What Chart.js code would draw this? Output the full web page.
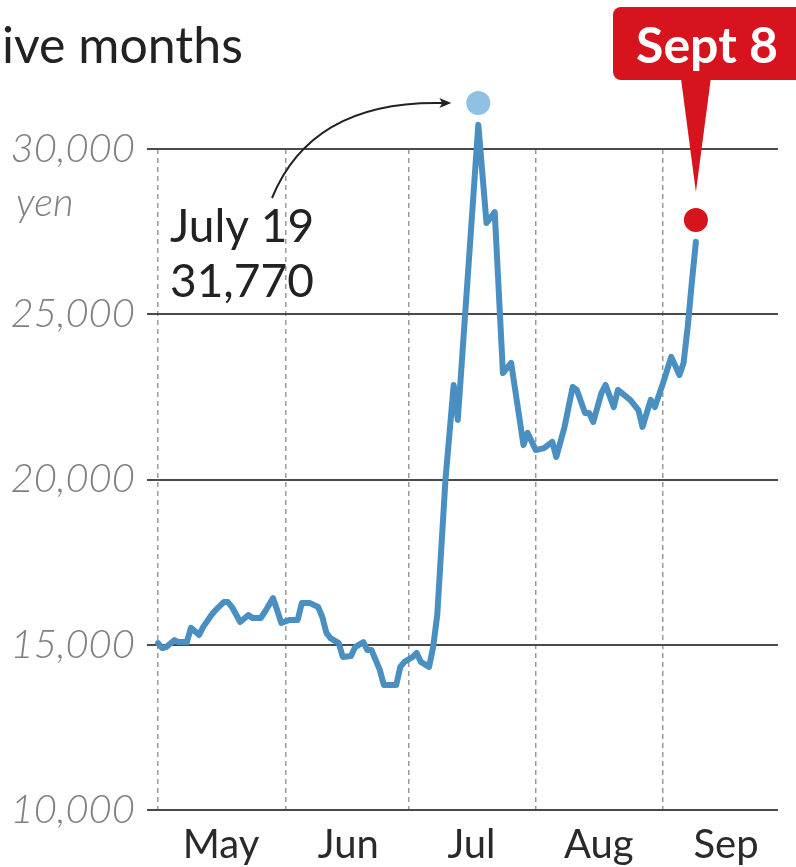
<!DOCTYPE html>
<html><head><meta charset="utf-8">
<script src="https://cdn.jsdelivr.net/npm/chart.js@4.4.0/dist/chart.umd.min.js"></script>
<style>html,body{margin:0;padding:0;background:#fff;overflow:hidden}canvas{display:block}</style>
</head><body>
<canvas id="c" width="796" height="867"></canvas>
<script>
// ---- data ----
const dates = ['05-01','05-02','05-03','05-05','05-06','05-08','05-09','05-11','05-12','05-14','05-15','05-17','05-18','05-19','05-21','05-23','05-24','05-26','05-27','05-29','05-30','05-31',
'06-02','06-04','06-05','06-07','06-09','06-10','06-11','06-12','06-14','06-15','06-17','06-18','06-20','06-21','06-22','06-24','06-25','06-26','06-28','06-29','06-30',
'07-02','07-03','07-04','07-06','07-07','07-08','07-10','07-12','07-13','07-18','07-20','07-22','07-24','07-26','07-29','07-30',
'08-01','08-03','08-05','08-06','08-08','08-10','08-11','08-13','08-14','08-15','08-17','08-18','08-20','08-21','08-24','08-26','08-27','08-29','08-30',
'09-01','09-03','09-05','09-06','09-07','09-08','09-09'];
const prices = [15050,14900,14930,15140,15080,15080,15510,15300,15540,15900,16050,16290,16290,16140,15690,15900,15810,15810,15990,16410,16050,15660,
15750,15750,16260,16260,16140,15840,15360,15200,15050,14630,14660,14930,15080,14840,14840,14240,13780,13780,13780,14330,14480,
14630,14750,14480,14330,14930,15900,19990,22860,21800,30730,27760,28090,23220,23530,21040,21410,
20890,20950,21140,20680,21590,22800,22710,22010,22010,21740,22620,22860,22190,22710,22410,22100,21590,22410,22190,
22920,23710,23160,23530,24610,25950,27190];
const monthStarts = ['05-01','06-01','07-01','08-01','09-01'];
const monthLabels = ['May','Jun','Jul','Aug','Sep'];
const yTicks = [10000,15000,20000,25000,30000];
const peakDate = '07-18', peakPrice = 31390;
const peakLabel = ['July 19','31,770'];
const lastDate = '09-09', lastPrice = 27850;
const lastLabel = 'Sept 8';
const titleText = 'ive months';
const unitText = 'yen';

function dayOf(s){const p=s.split('-').map(Number);return (Date.UTC(2016,p[0]-1,p[1])-Date.UTC(2016,4,1))/86400000;}
const FONT = 'Lato, "Open Sans", sans-serif';

const annot = {
  id:'annot',
  afterDatasetsDraw(chart){
    const ctx = chart.ctx;
    ctx.save();
    // peak dot (lies above the chart area, so draw the library's point element without area clipping)
    const pk = chart.getDatasetMeta(1).data[0];
    pk.draw(ctx);
    ctx.textAlign='left'; ctx.textBaseline='alphabetic';
    // title fragment
    ctx.fillStyle='#222';
    ctx.font='50px '+FONT;
    ctx.fillText(titleText, 2, 63);
    // unit
    ctx.fillStyle='#808080';
    ctx.font='italic 300 40px '+FONT;
    ctx.fillText(unitText, 16, 216);
    // peak label
    ctx.fillStyle='#222';
    ctx.font='46px '+FONT;
    ctx.fillText(peakLabel[0], 170, 242);
    ctx.fillText(peakLabel[1], 170, 297);
    // arrow to peak dot
    const ex = pk.x - 27, ey = pk.y;
    ctx.strokeStyle='#222'; ctx.lineWidth=2;
    ctx.beginPath(); ctx.moveTo(272,198); ctx.quadraticCurveTo(312,100, ex-8, ey); ctx.stroke();
    ctx.fillStyle='#222';
    ctx.beginPath(); ctx.moveTo(ex,ey); ctx.lineTo(ex-12,ey-5); ctx.lineTo(ex-9,ey); ctx.lineTo(ex-12,ey+5); ctx.closePath(); ctx.fill();
    // callout for last value
    const ls = chart.getDatasetMeta(2).data[0];
    ctx.fillStyle='#d7141e';
    ctx.beginPath(); ctx.roundRect(613,7,200,73,8); ctx.fill();
    ctx.beginPath(); ctx.moveTo(ls.x-15,78); ctx.lineTo(ls.x+15,78); ctx.lineTo(ls.x, ls.y-28); ctx.closePath(); ctx.fill();
    ctx.fillStyle='#fff';
    ctx.font='bold 50px '+FONT;
    ctx.textAlign='center';
    ctx.fillText(lastLabel, 707, 63);
    ctx.restore();
  }
};

new Chart(document.getElementById('c'), {
  type:'line',
  data:{datasets:[
    {data: dates.map((d,i)=>({x:dayOf(d), y:prices[i]})), borderColor:'#4a8fc2', borderWidth:6, pointRadius:0, tension:0, clip:false, borderJoinStyle:'round', borderCapStyle:'round', fill:false},
    {data:[{x:dayOf(peakDate), y:peakPrice}], pointRadius:12, pointBackgroundColor:'#8ec1e4', backgroundColor:'#8ec1e4', pointBorderWidth:0, showLine:false, clip:false},
    {data:[{x:dayOf(lastDate), y:lastPrice}], pointRadius:12, pointBackgroundColor:'#d7141e', pointBorderWidth:0, showLine:false, clip:false}
  ]},
  options:{
    responsive:false, animation:false, devicePixelRatio:1,
    layout:{padding:{top:149, right:18, left:0, bottom:0}},
    plugins:{legend:{display:false}, tooltip:{enabled:false}},
    scales:{
      x:{type:'linear', min:-2.7, max:151,
        afterBuildTicks:s=>{s.ticks = monthStarts.map(m=>({value:dayOf(m)}));},
        afterFit:s=>{s.height=57;},
        grid:{color:'#999', lineWidth:1.5, drawTicks:false},
        border:{display:false, dash:[5,4]},
        ticks:{callback:(v,i)=>monthLabels[i], labelOffset:63, padding:11, autoSkip:false, maxRotation:0,
          font:{family:FONT, size:40}, color:'#2a2a2a'}
      },
      y:{min:10000, max:30000,
        afterBuildTicks:s=>{s.ticks = yTicks.map(v=>({value:v}));},
        afterFit:s=>{s.width=147;},
        grid:{color:'#4a4a4a', lineWidth:2, drawTicks:false},
        border:{display:false},
        ticks:{callback:v=>v.toLocaleString('en-US'), padding:12,
          font:{family:FONT, size:40, style:'italic', weight:300}, color:'#808080'}
      }
    }
  },
  plugins:[annot]
});
</script>
</body></html>
